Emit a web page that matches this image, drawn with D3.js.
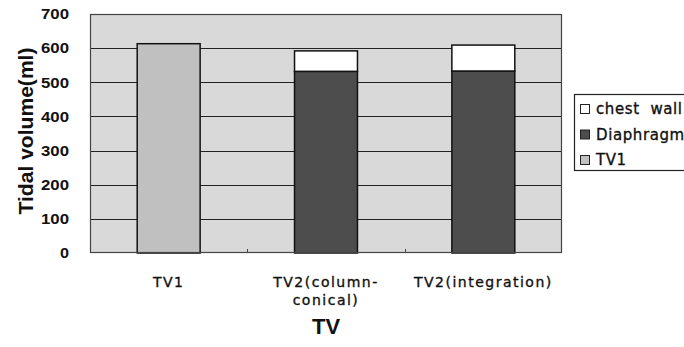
<!DOCTYPE html>
<html>
<head>
<meta charset="utf-8">
<script src="https://cdn.jsdelivr.net/npm/d3@7"></script>
<style>
  body { margin: 0; background: #fff; }
</style>
</head>
<body>
<svg id="chart" width="684" height="347"></svg>
<script>
// data
var categories = ['TV1', 'TV2(column-conical)', 'TV2(integration)'];
var catLines = [['TV1'], ['TV2(column-', 'conical)'], ['TV2(integration)']];
var tv1 = [613, 0, 0];
var diaphragm = [0, 532, 533];
var chestWall = [0, 60, 76];
var yTicks = [0, 100, 200, 300, 400, 500, 600, 700];
var seriesNames = ['chest  wall', 'Diaphragm', 'TV1'];

var colors = { tv1: '#c0c0c0', diaphragm: '#4d4d4d', chest: '#ffffff' };
var sans = '"Liberation Sans", Arial, sans-serif';
var wide = '"DejaVu Sans", Verdana, sans-serif';

var svg = d3.select('#chart');
var margin = { top: 14, left: 90, right: 122, bottom: 94 };
var width = 684, height = 347;
var plotW = width - margin.left - margin.right;
var plotH = height - margin.top - margin.bottom;

var x = d3.scaleBand().domain(categories).range([margin.left, margin.left + plotW]).paddingInner(0.6).paddingOuter(0.3);
var y = d3.scaleLinear().domain([0, 700]).range([margin.top + plotH, margin.top]);

// plot background
svg.append('rect')
  .attr('x', margin.left).attr('y', margin.top)
  .attr('width', plotW).attr('height', plotH)
  .attr('fill', '#d9d9d9');

// grid lines
svg.append('g').selectAll('line').data(yTicks.slice(1, -1)).enter().append('line')
  .attr('x1', margin.left).attr('x2', margin.left + plotW)
  .attr('y1', function(d) { return Math.round(y(d)) + 0.5; })
  .attr('y2', function(d) { return Math.round(y(d)) + 0.5; })
  .attr('stroke', '#222').attr('stroke-width', 1);

// small ticks between categories
var band = plotW / categories.length;
svg.append('g').selectAll('line').data([1, 2]).enter().append('line')
  .attr('x1', function(d) { return Math.round(margin.left + d * band) + 0.5; })
  .attr('x2', function(d) { return Math.round(margin.left + d * band) + 0.5; })
  .attr('y1', y(0)).attr('y2', y(0) - 4)
  .attr('stroke', '#444');

// stacked bars
var stackData = categories.map(function(c, i) {
  return { cat: c, tv1: tv1[i], diaphragm: diaphragm[i], chest: chestWall[i] };
});
var stack = d3.stack().keys(['tv1', 'diaphragm', 'chest']);
var layers = stack(stackData);

svg.append('g').selectAll('g').data(layers).enter().append('g')
  .attr('fill', function(d) { return colors[d.key]; })
  .selectAll('rect').data(function(d) { return d.filter(function(s) { return s[1] > s[0]; }); })
  .enter().append('rect')
  .attr('x', function(d) { return x(d.data.cat); })
  .attr('width', x.bandwidth())
  .attr('y', function(d) { return y(d[1]); })
  .attr('height', function(d) { return y(d[0]) - y(d[1]); })
  .attr('stroke', '#111').attr('stroke-width', 1.5);

// plot border
svg.append('rect')
  .attr('x', margin.left + 0.5).attr('y', margin.top + 0.5)
  .attr('width', plotW - 1).attr('height', plotH - 1)
  .attr('fill', 'none').attr('stroke', '#444').attr('stroke-width', 1.2);

// y axis labels
var yAxis = d3.axisLeft(y).tickValues(yTicks).tickSize(0).tickPadding(0);
var gy = svg.append('g').attr('transform', 'translate(' + (margin.left - 21) + ',0)').call(yAxis);
gy.select('.domain').remove();
gy.selectAll('text')
  .style('font-family', sans).style('font-size', '15px').style('font-weight', 'bold')
  .attr('fill', '#111')
  .attr('textLength', function(d) { return d === 0 ? 9 : 28; })
  .attr('lengthAdjust', 'spacingAndGlyphs');

// x labels
var xl = svg.append('g').selectAll('text').data(categories).enter().append('text')
  .attr('text-anchor', 'middle')
  .style('font-family', wide).style('font-size', '14px').style('letter-spacing', '1.5px')
  .attr('fill', '#111')
  .attr('stroke', '#111').attr('stroke-width', 0.35)
  .attr('x', function(d) { return x(d) + x.bandwidth() / 2; })
  .attr('y', 287);
xl.each(function(d, i) {
  var t = d3.select(this);
  catLines[i].forEach(function(line, j) {
    t.append('tspan').attr('x', x(d) + x.bandwidth() / 2).attr('dy', j === 0 ? 0 : 18).text(line);
  });
});

// axis titles
svg.append('text')
  .attr('x', margin.left + plotW / 2).attr('y', 334)
  .attr('text-anchor', 'middle')
  .style('font-family', sans).style('font-size', '22px').style('font-weight', 'bold')
  .attr('fill', '#111')
  .text('TV');

var yTitle = svg.append('g').attr('transform', 'translate(33,131) rotate(-90)');
var yt = yTitle.append('text')
  .attr('text-anchor', 'middle')
  .style('font-family', sans).style('font-size', '20px').style('font-weight', 'bold')
  .attr('fill', '#111')
  .text('Tidal volume(ml)');
var natural = yt.node().getComputedTextLength();
yt.attr('transform', 'scale(' + (167 / natural) + ',1)');

// legend
var legend = svg.append('g').attr('transform', 'translate(574,94)');
legend.append('rect')
  .attr('x', 0.5).attr('y', 0.5).attr('width', 130).attr('height', 76)
  .attr('fill', '#fff').attr('stroke', '#222').attr('stroke-width', 1.2);
var legColors = [colors.chest, colors.diaphragm, colors.tv1];
var items = legend.selectAll('g.item').data(seriesNames).enter().append('g')
  .attr('transform', function(d, i) { return 'translate(6,' + (15 + i * 25.5) + ')'; });
items.append('rect')
  .attr('x', 0.5).attr('y', -4.5).attr('width', 9).attr('height', 9)
  .attr('fill', function(d, i) { return legColors[i]; })
  .attr('stroke', '#222').attr('stroke-width', 1);
items.append('text')
  .attr('x', 16).attr('y', 0).attr('dy', '0.36em')
  .style('font-family', wide).style('font-size', '15px').style('white-space', 'pre')
  .attr('fill', '#111')
  .attr('stroke', '#111').attr('stroke-width', 0.35)
  .attr('letter-spacing', 0.6)
  .text(function(d) { return d; });
</script>
</body>
</html>
